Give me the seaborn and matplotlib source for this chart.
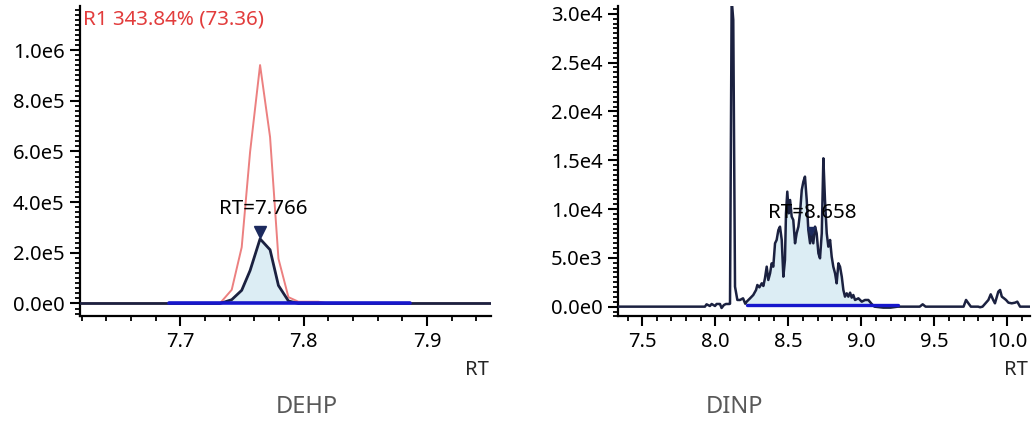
import numpy as np
import seaborn as sns
import matplotlib
matplotlib.use("Agg")
import matplotlib.pyplot as plt
from matplotlib.ticker import MultipleLocator, FuncFormatter, FormatStrFormatter

# ---- DEHP (left panel) ----
dehp_rt = [7.60, 7.7241, 7.7322, 7.7417, 7.7498, 7.7566, 7.7647, 7.7728,
           7.7796, 7.7877, 7.7958, 7.8039, 7.8120, 7.8201, 7.96]
dehp_ref = [0, 0, 0.01e5, 0.54e5, 2.22e5, 5.98e5, 9.41e5, 6.57e5,
            1.77e5, 0.25e5, 0.07e5, 0.07e5, 0.07e5, 0, 0]
dehp_sig = [0, 0, 0, 0.15e5, 0.52e5, 1.30e5, 2.55e5, 2.12e5,
            0.71e5, 0.10e5, 0, 0, 0, 0, 0]
dehp_base = [7.691, 7.886]
dehp_apex = (7.7648, 2.82e5)
dehp_label = "RT=7.766"
dehp_ratio = "R1 343.84% (73.36)"

# ---- DINP (right panel) ----
dinp_rt = [7.30, 7.929, 7.940, 7.963, 7.975, 7.998, 8.009, 8.032, 8.043, 8.059,
           8.073, 8.096, 8.1007, 8.112, 8.123, 8.135, 8.151, 8.169, 8.190, 8.205,
           8.215, 8.238, 8.260, 8.279, 8.288, 8.302, 8.318, 8.329, 8.340, 8.352,
           8.363, 8.375, 8.386, 8.397, 8.409, 8.420, 8.432, 8.443, 8.455, 8.466,
           8.477, 8.484, 8.493, 8.503, 8.512, 8.523, 8.534, 8.546, 8.557, 8.569,
           8.580, 8.592, 8.603, 8.614, 8.626, 8.637, 8.649, 8.660, 8.671, 8.683,
           8.694, 8.706, 8.717, 8.729, 8.740, 8.751, 8.763, 8.774, 8.786, 8.797,
           8.808, 8.820, 8.831, 8.843, 8.854, 8.866, 8.877, 8.888, 8.900, 8.911,
           8.923, 8.934, 8.945, 8.957, 8.980, 9.003, 9.025, 9.048, 9.071, 9.090,
           9.150, 9.200, 9.250, 9.400, 9.420, 9.440, 9.700, 9.717, 9.733, 9.750,
           9.800, 9.813, 9.830, 9.870, 9.886, 9.903, 9.915, 9.938, 9.950, 9.962,
           9.977, 9.991, 10.007, 10.030, 10.053, 10.068, 10.087, 10.160]
dinp_sig = [0, 0, 239, 68, 273, 68, 273, 273, -137, 171,
            273, 273, 300, 31500, 29375, 2049, 686, 683, 854, 300,
            512, 854, 1195, 1708, 2220, 1981, 2391, 2117, 2903, 4098,
            2732, 3415, 4440, 4098, 6489, 6830, 7855, 8196, 6830, 3074,
            4781, 9562, 11782, 9562, 10928, 9221, 8879, 6489, 7513, 8196,
            9562, 11953, 12806, 13319, 10928, 7855, 6489, 7513, 6489, 8196,
            7513, 5464, 4952, 7513, 15197, 10928, 7513, 6147, 6830, 5123,
            4098, 3415, 2391, 4440, 4098, 3074, 1708, 1025, 1366, 1025,
            1434, 922, 1195, 683, 854, 512, 683, 683, 273, 0,
            -100, -100, 0, 0, 240, 0, 0, 686, 348, 0,
            0, -60, 0, 683, 1263, 683, 341, 1537, 1708, 1025,
            854, 683, 410, 341, 410, 512, 0, 0]
dinp_base = [8.215, 9.249]
dinp_base_level = 200
dinp_apex = (8.652, 7700)
dinp_label = "RT=8.658"

trace_col = "#1b2140"
ref_col = "#ec8080"
fill_col = "#dcedf4"
base_col = "#1717cc"


def sci_fmt(v, pos):
    if v == 0:
        return "0.0e0"
    e = int(np.floor(np.log10(abs(v)) + 1e-9))
    return f"{v / 10 ** e:.1f}e{e}"


def style_axis(ax, xlim, ylim, xmaj, xmin, ymaj, ymin):
    ax.set_xlim(*xlim)
    ax.set_ylim(*ylim)
    ax.xaxis.set_major_locator(MultipleLocator(xmaj))
    ax.xaxis.set_minor_locator(MultipleLocator(xmin))
    ax.yaxis.set_major_locator(MultipleLocator(ymaj))
    ax.yaxis.set_minor_locator(MultipleLocator(ymin))
    ax.xaxis.set_major_formatter(FormatStrFormatter("%.1f"))
    ax.yaxis.set_major_formatter(FuncFormatter(sci_fmt))
    sns.despine(ax=ax)
    for s in ["left", "bottom"]:
        ax.spines[s].set_linewidth(1.6)
        ax.spines[s].set_color("black")
    ax.tick_params(which="major", direction="out", length=7, width=1.5,
                   labelsize=14.5, colors="black", pad=4)
    ax.tick_params(which="minor", direction="out", length=3.5, width=1.3,
                   colors="black")
    ax.set_xlabel("RT", loc="right", fontsize=14.5)
    ax.xaxis.set_label_coords(0.995, -0.142)
    ax.set_ylabel("")


sns.set_theme(style="ticks")
plt.rcParams["font.family"] = ["Noto Sans", "DejaVu Sans"]

fig = plt.figure(figsize=(10.33, 4.25), dpi=100)
ax1 = fig.add_axes([0.0774, 0.2555, 0.3979, 0.7304])
ax2 = fig.add_axes([0.5983, 0.2555, 0.3988, 0.7304])

# left panel
d_sig = np.array(dehp_sig)
d_rt = np.array(dehp_rt)
ax1.fill_between(d_rt, d_sig, 0, where=d_sig > 0, interpolate=True,
                 color=fill_col, lw=0, zorder=1)
sns.lineplot(x=dehp_rt, y=dehp_ref, ax=ax1, color=ref_col, lw=1.4,
             sort=False, estimator=None, zorder=2)
sns.lineplot(x=dehp_rt, y=dehp_sig, ax=ax1, color=trace_col, lw=2.0,
             sort=False, estimator=None, zorder=3)
sns.lineplot(x=dehp_base, y=[0, 0], ax=ax1, color=base_col, lw=2.6,
             estimator=None, zorder=4)
ax1.plot([dehp_apex[0]], [dehp_apex[1]], marker="v", ms=9,
         color="#1c2a5e", zorder=5)
ax1.text(7.7671, 3.72e5, dehp_label, ha="center", va="center",
         fontsize=14.8, color="black", zorder=6)
ax1.text(0.007, 0.955, dehp_ratio, transform=ax1.transAxes, ha="left",
         va="center", fontsize=14.8, color="#e23c3c")
style_axis(ax1, (7.6186, 7.952), (-0.51e5, 1.174e6), 0.1, 0.02, 2e5, 2e4)

# right panel
r_rt = np.array(dinp_rt)
r_sig = np.array(dinp_sig, dtype=float)
mask = (r_rt >= dinp_base[0]) & (r_rt <= 9.071)
ax2.fill_between(r_rt[mask], r_sig[mask], dinp_base_level,
                 color=fill_col, lw=0, zorder=1)
sns.lineplot(x=dinp_rt, y=dinp_sig, ax=ax2, color=trace_col, lw=1.8,
             sort=False, estimator=None, zorder=3)
sns.lineplot(x=dinp_base, y=[dinp_base_level, dinp_base_level], ax=ax2,
             color=base_col, lw=2.4, estimator=None, zorder=4)
ax2.plot([dinp_apex[0]], [dinp_apex[1]], marker="v", ms=6,
         color="#1c2a5e", zorder=5)
ax2.text(8.667, 9570, dinp_label, ha="center", va="center",
         fontsize=14.8, color="black", zorder=6)
style_axis(ax2, (7.334, 10.155), (-1000, 30800), 0.5, 0.1, 5e3, 500)

fig.text(307 / 1033, 1 - 407 / 425, "DEHP", ha="center", va="center",
         fontsize=17, color="#595959")
fig.text(735 / 1033, 1 - 407 / 425, "DINP", ha="center", va="center",
         fontsize=17, color="#595959")

fig.savefig("out.png", dpi=100)
